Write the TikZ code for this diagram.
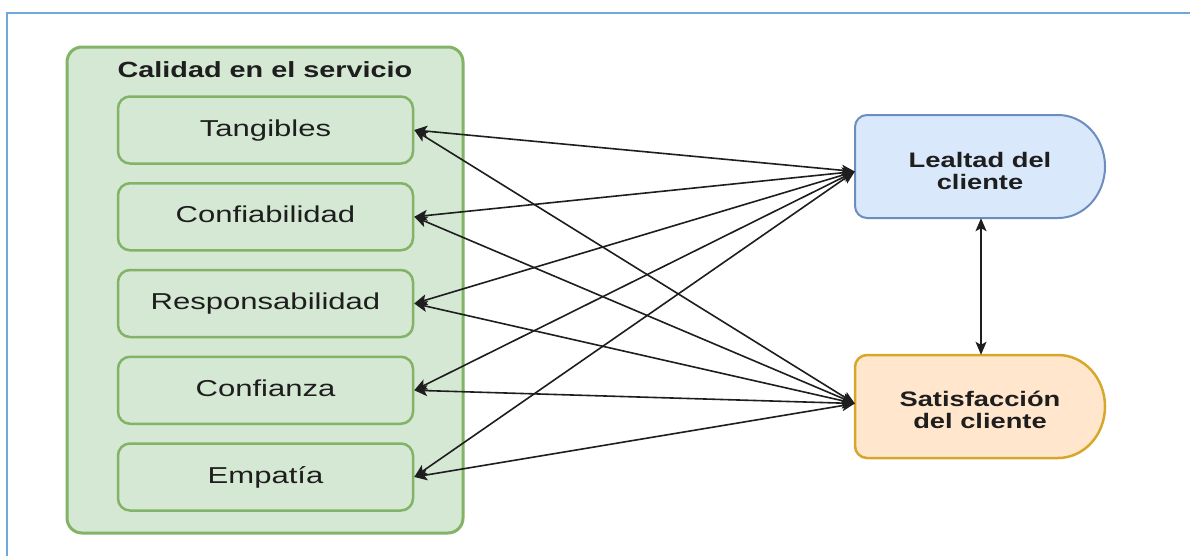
\documentclass[tikz,border=0pt]{standalone}
\usepackage{fontspec}
\setmainfont{Liberation Sans}
\newfontfamily\itemfont{Liberation Sans}[FakeStretch=1.35]
\newfontfamily\titlefont{Liberation Sans}[FakeStretch=1.31]
\newfontfamily\shapefont{Liberation Sans}[FakeStretch=1.3]
\usetikzlibrary{arrows.meta}
\definecolor{frameblue}{HTML}{6FA8DC}
\definecolor{grfill}{HTML}{D5E8D4}
\definecolor{grline}{HTML}{82B366}
\definecolor{blfill}{HTML}{DAE8FC}
\definecolor{blline}{HTML}{6C8EBF}
\definecolor{orfill}{HTML}{FFE6CC}
\definecolor{orline}{HTML}{D6A82A}
\definecolor{ink}{HTML}{1E1E1E}
\begin{document}
\begin{tikzpicture}[x=1pt,y=-1pt,
  container/.style={draw=grline, fill=grfill, line width=3pt, rounded corners=15pt,
    minimum width=396pt, minimum height=486pt, inner sep=0pt},
  itembox/.style={draw=grline, fill=grfill, line width=2.5pt, rounded corners=12pt,
    minimum width=295pt, minimum height=67pt, inner sep=0pt, text=ink,
    font=\itemfont\fontsize{23}{27}\selectfont, text height=16.5pt, text depth=4.5pt},
  titletext/.style={text=ink, inner sep=0pt, font=\titlefont\bfseries\fontsize{22}{26}\selectfont},
  holder/.style={minimum width=250pt, minimum height=103pt, inner sep=0pt},
  shapetext/.style={text=ink, inner sep=0pt, align=center,
    font=\shapefont\bfseries\fontsize{21}{22}\selectfont},
  bluestyle/.style={draw=blline, fill=blfill, line width=2pt},
  orangestyle/.style={draw=orline, fill=orfill, line width=2.5pt},
  link/.style={draw=ink, line width=1.6pt,
    {Stealth[length=13pt,width=11pt,inset=3pt]}-{Stealth[length=13pt,width=11pt,inset=3pt]}}
]
\clip (0,0) rectangle (1190,555);
\fill[white] (0,0) rectangle (1190,555);

% outer frame
\draw[frameblue, line width=2.2pt] (7,13) rectangle (1220,585);

% group of service-quality dimensions
\node[container] (cal) at (265,290) {};
\node[titletext] (caltitle) at (265,70) {Calidad en el servicio};
\node[itembox] (tan) at (265.5,130)    {Tangibles};
\node[itembox] (conf) at (265.5,216.75) {Confiabilidad};
\node[itembox] (resp) at (265.5,303.5)  {Responsabilidad};
\node[itembox] (cfz) at (265.5,390.25)  {Confianza};
\node[itembox] (emp) at (265.5,477)     {Empatía};

% delay-shaped outcome boxes
\node[holder] (leal) at (980,166.5) {};
\node[holder] (sat) at (980,406.5) {};
\draw[bluestyle] (1105,166.5) .. controls (1105,138.1) and (1084,115) .. (1058,115)
  [rounded corners=12pt] -- (855,115) -- (855,218) [sharp corners] -- (1058,218)
  .. controls (1084,218) and (1105,194.9) .. (1105,166.5) -- cycle;
\draw[orangestyle] (1105,406.5) .. controls (1105,378.1) and (1084,355) .. (1058,355)
  [rounded corners=12pt] -- (855,355) -- (855,458) [sharp corners] -- (1058,458)
  .. controls (1084,458) and (1105,434.9) .. (1105,406.5) -- cycle;
\node[shapetext] (lealtxt) at (980,171) {Lealtad del\\cliente};
\node[shapetext] (sattxt) at (980,410) {Satisfacción\\del cliente};

% connectors
\coordinate (lin) at ([yshift=-5pt]leal.west);
\coordinate (sin) at ([yshift=3pt]sat.west);
\foreach \n in {tan,conf,resp,cfz,emp}{
  \draw[link] (\n.east) -- (lin);
  \draw[link] (\n.east) -- (sin);
}
\draw[link] ([xshift=1pt]leal.south) -- ([xshift=1pt]sat.north);
\end{tikzpicture}
\end{document}
